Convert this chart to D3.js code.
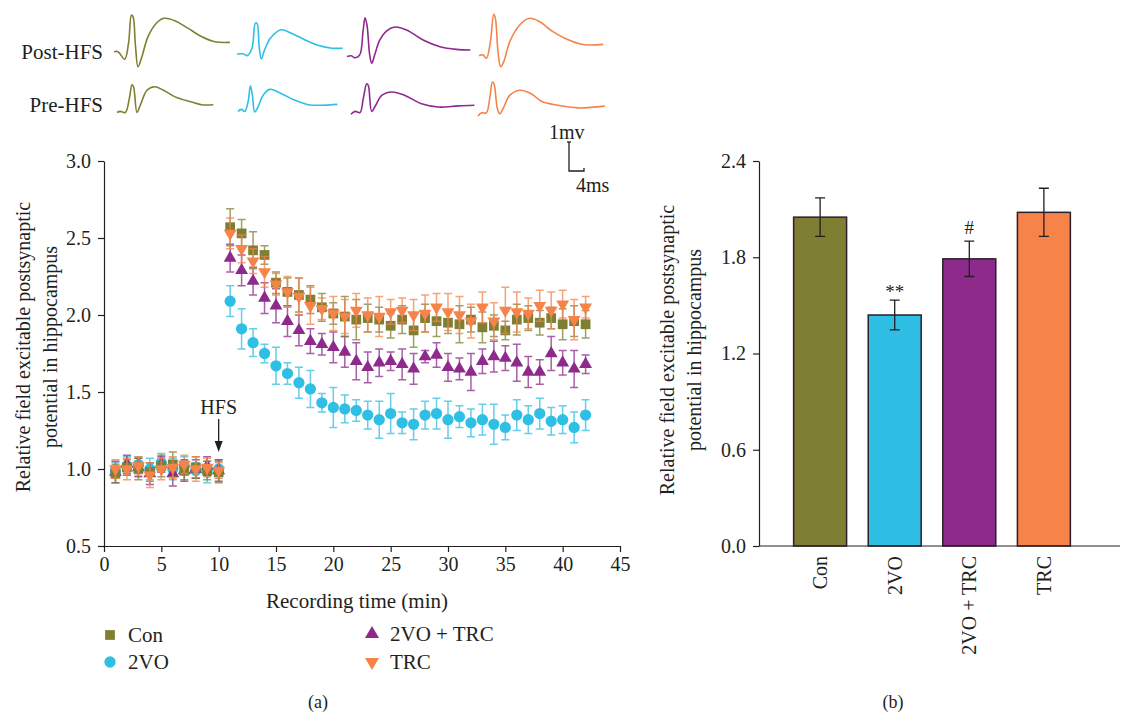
<!DOCTYPE html>
<html>
<head>
<meta charset="utf-8">
<script src="https://cdn.jsdelivr.net/npm/d3@7"></script>
<style>
  body { margin: 0; background: #fff; }
  svg text { font-family: "Liberation Serif", "DejaVu Serif", serif; fill: #231f20; }
</style>
</head>
<body>
<div id="chart"></div>
<script>
// ---- data ----
const groups = ["Con", "2VO", "2VO + TRC", "TRC"];
const colors = ["#7f7f33", "#2fbfe4", "#8e2a8c", "#f5834a"];

const minutes = [1,2,3,4,5,6,7,8,9,10,11,12,13,14,15,16,17,18,19,20,21,
                 22,23,24,25,26,27,28,29,30,31,32,33,34,35,36,37,38,39,40,41,42];

const conMean = [0.97,1.01,1.00,0.98,1.02,1.03,0.99,1.01,0.99,0.98,
  2.57,2.53,2.42,2.39,2.21,2.15,2.13,2.10,2.05,2.01,1.99,1.97,
  1.98,1.97,1.93,1.97,1.90,1.98,1.96,1.95,1.94,1.97,1.92,1.93,1.90,1.97,1.98,1.95,1.98,1.94,1.96,1.94];
const conSe = [0.06,0.05,0.07,0.06,0.07,0.08,0.06,0.07,0.06,0.07,
  0.12,0.09,0.12,0.06,0.07,0.09,0.11,0.09,0.09,0.07,0.13,0.13,
  0.09,0.08,0.08,0.09,0.11,0.09,0.10,0.07,0.12,0.08,0.10,0.07,0.06,0.10,0.08,0.08,0.07,0.10,0.10,0.09];

const vo2Mean = [0.99,1.02,1.03,1.00,1.04,1.00,1.02,0.99,0.98,1.00,
  2.09,1.91,1.82,1.75,1.67,1.62,1.56,1.52,1.43,1.40,1.39,1.38,
  1.35,1.32,1.36,1.30,1.29,1.35,1.36,1.32,1.34,1.30,1.32,1.29,1.27,1.35,1.32,1.36,1.31,1.32,1.27,1.35];
const vo2Se = [0.05,0.06,0.05,0.07,0.06,0.07,0.06,0.05,0.07,0.06,
  0.10,0.13,0.09,0.06,0.12,0.07,0.10,0.12,0.06,0.13,0.09,0.07,
  0.09,0.12,0.13,0.07,0.10,0.09,0.10,0.12,0.07,0.09,0.10,0.13,0.08,0.10,0.09,0.10,0.09,0.09,0.10,0.10];

const vo2TrcMean = [0.98,1.03,1.01,0.97,1.03,0.97,0.99,1.00,1.02,0.99,
  2.37,2.29,2.22,2.11,2.06,1.96,1.90,1.83,1.81,1.79,1.76,1.70,
  1.66,1.69,1.70,1.68,1.65,1.73,1.74,1.66,1.65,1.63,1.70,1.73,1.72,1.69,1.63,1.63,1.75,1.69,1.65,1.68];
const vo2TrcSe = [0.07,0.06,0.06,0.07,0.05,0.08,0.07,0.06,0.06,0.07,
  0.09,0.10,0.09,0.10,0.11,0.10,0.10,0.08,0.07,0.10,0.10,0.12,
  0.10,0.09,0.06,0.10,0.10,0.04,0.08,0.09,0.07,0.12,0.08,0.10,0.08,0.12,0.10,0.08,0.11,0.08,0.12,0.06];

const trcMean = [1.00,1.00,1.02,0.96,1.00,1.01,1.03,1.00,1.01,0.99,
  2.53,2.43,2.35,2.28,2.20,2.15,2.12,2.06,2.04,2.01,1.99,2.03,
  2.00,1.99,2.02,2.03,2.00,2.01,2.05,2.02,2.00,1.96,2.05,1.96,2.03,2.02,2.01,2.06,2.03,2.07,1.97,2.05];
const trcSe = [0.06,0.07,0.06,0.08,0.07,0.07,0.06,0.08,0.06,0.05,
  0.10,0.09,0.08,0.10,0.07,0.10,0.12,0.12,0.07,0.11,0.11,0.11,
  0.11,0.13,0.08,0.08,0.10,0.12,0.09,0.12,0.12,0.11,0.10,0.12,0.15,0.13,0.10,0.10,0.12,0.09,0.13,0.07];

const xTicks = [0,5,10,15,20,25,30,35,40,45];
const yTicksA = [0.5,1.0,1.5,2.0,2.5,3.0];

// panel b
const barMean = [2.05, 1.44, 1.79, 2.08];
const barSe = [0.12, 0.093, 0.11, 0.15];
const barMarks = ["", "**", "#", ""];
const yTicksB = [0.0, 0.6, 1.2, 1.8, 2.4];

// sample traces: [ms, mV]
const conPost = [[0,-0.23],[1.07,-0.23],[2.85,-0.49],[3.92,0.11],[4.64,1.03],[5.07,0.98],[5.71,0],[6.4,-0.75],[7.31,-0.46],[9.07,0.29],[11.3,0.75],[13.3,0.92],[16.2,0.84],[19.7,0.58],[23.3,0.29],[26.9,0.11],[30.9,0.09]];
const vo2Post = [[0,-0.31],[1.76,-0.31],[2.67,-0.37],[4.0,-0.11],[4.88,0.75],[5.33,0.75],[5.95,-0.11],[6.48,-0.48],[7.36,-0.17],[8.88,0.23],[11.55,0.52],[14.67,0.40],[18.2,0.17],[21.8,-0.02],[25.3,-0.11],[28.2,-0.11]];
const vo2TrcPost = [[0,-0.4],[1.17,-0.37],[2.05,-0.44],[3.39,-0.34],[4.27,0.46],[4.8,0.94],[5.33,0.69],[6.05,-0.34],[6.59,-0.63],[7.39,-0.34],[8.72,0.17],[10.5,0.48],[12.7,0.62],[15.9,0.52],[20.3,0.17],[24.8,-0.06],[29.2,-0.15],[32.9,-0.17]];
const trcPost = [[0,-0.37],[1.07,-0.34],[1.97,-0.46],[3.04,0.11],[3.92,1.06],[4.37,0.92],[5.07,-0.23],[5.79,-0.75],[6.59,-0.58],[8.19,0.11],[10.85,0.69],[13.5,0.92],[16.2,0.80],[19.7,0.46],[23.3,0.21],[27.7,0.02],[33.1,0.02]];
const conPre = [[0,-0.26],[0.88,-0.22],[2.21,-0.26],[3.28,0.22],[4.0,0.70],[4.43,0.62],[5.33,-0.26],[6.21,-0.01],[8.0,0.51],[10.0,0.63],[12.4,0.51],[15.5,0.28],[20.0,0.10],[22.6,0.01],[25.7,0.01]];
const vo2Pre = [[0,-0.22],[0.91,-0.15],[1.79,-0.22],[2.67,0.10],[3.31,0.66],[3.84,0.33],[4.45,-0.24],[5.33,-0.07],[6.67,0.33],[8.45,0.54],[11.6,0.39],[15.2,0.16],[18.7,0.01],[22.3,-0.01],[26.5,0.02]];
const vo2TrcPre = [[0,-0.32],[1.07,-0.22],[2.4,-0.26],[3.28,0.22],[4.19,0.73],[4.61,0.68],[5.52,-0.22],[6.59,-0.01],[8.19,0.33],[10.85,0.45],[14.4,0.33],[18.8,0.04],[23.3,-0.07],[28.6,-0.03],[32.9,-0.01]];
const trcPre = [[0,-0.38],[0.91,-0.27],[2.24,-0.27],[3.12,0.22],[3.84,0.79],[4.27,0.73],[5.17,-0.13],[5.79,-0.30],[6.67,-0.13],[8.45,0.33],[11.1,0.51],[14.2,0.39],[16.9,0.13],[21.3,-0.01],[26.7,-0.10],[33.8,-0.04]];

// ---- svg ----
const W = 1126, H = 713;
const svg = d3.select("#chart").append("svg")
    .attr("width", W).attr("height", H);

const tickFont = 20;

// ---- traces ----
const ms = d3.scaleLinear().domain([0, 4]).range([0, 15]);
const mv = d3.scaleLinear().domain([0, 1]).range([0, -29]);
const traceLine = d3.line().x(d => ms(d[0])).y(d => mv(d[1])).curve(d3.curveCatmullRom);

const postTraces = [conPost, vo2Post, vo2TrcPost, trcPost];
const preTraces = [conPre, vo2Pre, vo2TrcPre, trcPre];
const postX = [114, 237, 347, 479];
const preX = [117, 238, 351, 478];

postTraces.forEach((tr, i) => {
  svg.append("path").attr("transform", `translate(${postX[i]},45)`)
    .attr("d", traceLine(tr)).attr("fill", "none")
    .attr("stroke", colors[i]).attr("stroke-width", 1.6);
});
preTraces.forEach((tr, i) => {
  svg.append("path").attr("transform", `translate(${preX[i]},105)`)
    .attr("d", traceLine(tr)).attr("fill", "none")
    .attr("stroke", colors[i]).attr("stroke-width", 1.6);
});

svg.append("text").attr("x", 103).attr("y", 59).attr("text-anchor", "end")
  .attr("font-size", 21).text("Post-HFS");
svg.append("text").attr("x", 103).attr("y", 112).attr("text-anchor", "end")
  .attr("font-size", 21).text("Pre-HFS");

// scale bar
const sb = svg.append("g").attr("transform", "translate(569,171)")
  .attr("stroke", "#231f20").attr("stroke-width", 1.3).attr("fill", "none");
sb.append("path").attr("d", `M0,${mv(1)}V0H${ms(4)}V-3`);
sb.append("path").attr("d", `M-2,${mv(1)}H2`);
svg.append("text").attr("x", 549).attr("y", 139).attr("font-size", 20).text("1mv");
svg.append("text").attr("x", 576).attr("y", 192).attr("font-size", 20).text("4ms");

// ---- panel a ----
const x = d3.scaleLinear().domain([0, 45]).range([104, 620]);
const y = d3.scaleLinear().domain([0.5, 3.0]).range([546, 161]);

svg.append("g").attr("transform", "translate(0,546)")
  .call(d3.axisBottom(x).tickValues(xTicks).tickSize(6).tickSizeOuter(0).tickPadding(5))
  .call(g => g.selectAll("text").attr("font-size", tickFont).style("font-family", "Liberation Serif"))
  .call(g => g.selectAll("line,path").attr("stroke", "#231f20").attr("stroke-width", 1.2));
svg.append("g").attr("transform", "translate(104,0)")
  .call(d3.axisLeft(y).tickValues(yTicksA).tickFormat(d3.format(".1f")).tickSize(6).tickSizeOuter(0).tickPadding(7))
  .call(g => g.selectAll("text").attr("font-size", tickFont).style("font-family", "Liberation Serif"))
  .call(g => g.selectAll("line,path").attr("stroke", "#231f20").attr("stroke-width", 1.2));

svg.append("text").attr("x", 357).attr("y", 608).attr("text-anchor", "middle")
  .attr("font-size", 21).text("Recording time (min)");
const yTitleA = svg.append("text").attr("transform", "translate(30,347) rotate(-90)")
  .attr("text-anchor", "middle").attr("font-size", 20);
yTitleA.append("tspan").attr("x", 0).attr("dy", 0).text("Relative field excitable postsynaptic");
yTitleA.append("tspan").attr("x", 0).attr("dy", 27).text("potential in hippocampus");

// HFS marker
svg.append("text").attr("x", x(10)).attr("y", 414).attr("text-anchor", "middle")
  .attr("font-size", 20).text("HFS");
svg.append("line").attr("x1", x(10)).attr("x2", x(10)).attr("y1", 419).attr("y2", 444)
  .attr("stroke", "#231f20").attr("stroke-width", 1.3);
svg.append("path").attr("d", `M${x(10)-4},441L${x(10)+4},441L${x(10)},452Z`).attr("fill", "#231f20");

const series = [
  {name: "2VO", mean: vo2Mean, se: vo2Se, color: colors[1], sym: d3.symbolCircle, size: 100, rot: 0},
  {name: "2VO + TRC", mean: vo2TrcMean, se: vo2TrcSe, color: colors[2], sym: d3.symbolTriangle, size: 72, rot: 0},
  {name: "Con", mean: conMean, se: conSe, color: colors[0], sym: d3.symbolSquare, size: 95, rot: 0},
  {name: "TRC", mean: trcMean, se: trcSe, color: colors[3], sym: d3.symbolTriangle, size: 72, rot: 180}
];

series.forEach(s => {
  const g = svg.append("g");
  const pts = minutes.map((m, i) => ({m: m, v: s.mean[i], e: s.se[i]}));
  const eb = g.append("g").attr("stroke", s.color).attr("stroke-width", 1.5).attr("opacity", 0.75);
  eb.selectAll("path").data(pts).join("path")
    .attr("fill", "none")
    .attr("d", d => {
      const cx = x(d.m), t = y(d.v + d.e), b = y(d.v - d.e);
      return `M${cx-4},${t}H${cx+4}M${cx},${t}V${b}M${cx-4},${b}H${cx+4}`;
    });
  g.selectAll(".pt").data(pts).join("path").attr("class", "pt")
    .attr("transform", d => `translate(${x(d.m)},${y(d.v)}) rotate(${s.rot})`)
    .attr("d", d3.symbol().type(s.sym).size(s.size))
    .attr("fill", s.color);
});

// legend
const legendItems = [
  {name: "Con", sym: d3.symbolSquare, size: 95, rot: 0, color: colors[0], lx: 110, ly: 635},
  {name: "2VO", sym: d3.symbolCircle, size: 100, rot: 0, color: colors[1], lx: 110, ly: 662},
  {name: "2VO + TRC", sym: d3.symbolTriangle, size: 85, rot: 0, color: colors[2], lx: 372, ly: 634},
  {name: "TRC", sym: d3.symbolTriangle, size: 85, rot: 180, color: colors[3], lx: 372, ly: 662}
];
legendItems.forEach(l => {
  svg.append("path").attr("transform", `translate(${l.lx},${l.ly}) rotate(${l.rot})`)
    .attr("d", d3.symbol().type(l.sym).size(l.size)).attr("fill", l.color);
  svg.append("text").attr("x", l.lx + 18).attr("y", l.ly + 7).attr("font-size", 21).text(l.name);
});

svg.append("text").attr("x", 318).attr("y", 708).attr("text-anchor", "middle")
  .attr("font-size", 18).text("(a)");

// ---- panel b ----
const xb = d3.scaleBand().domain(groups).range([772, 1092]).padding(0.29);
const yb = d3.scaleLinear().domain([0, 2.4]).range([546, 161]);

svg.append("g").selectAll("rect").data(groups).join("rect")
  .attr("x", d => xb(d)).attr("width", xb.bandwidth())
  .attr("y", (d, i) => yb(barMean[i])).attr("height", (d, i) => yb(0) - yb(barMean[i]))
  .attr("fill", (d, i) => colors[i]).attr("stroke", "#2b1f2b").attr("stroke-width", 1.5);

svg.append("g").attr("stroke", "#231f20").attr("stroke-width", 1.3).attr("fill", "none")
  .selectAll("path").data(groups).join("path")
  .attr("d", (d, i) => {
    const cx = xb(d) + xb.bandwidth() / 2, t = yb(barMean[i] + barSe[i]), b = yb(barMean[i] - barSe[i]);
    return `M${cx-5},${t}H${cx+5}M${cx},${t}V${b}M${cx-5},${b}H${cx+5}`;
  });

svg.append("g").selectAll("text").data(groups).join("text")
  .attr("x", d => xb(d) + xb.bandwidth() / 2)
  .attr("y", (d, i) => yb(barMean[i] + barSe[i]) - (barMarks[i] === "#" ? 7 : 2))
  .attr("text-anchor", "middle").attr("font-size", 19)
  .text((d, i) => barMarks[i]);

svg.append("g").attr("transform", "translate(759,0)")
  .call(d3.axisLeft(yb).tickValues(yTicksB).tickFormat(d3.format(".1f")).tickSize(6).tickSizeOuter(0).tickPadding(7))
  .call(g => g.selectAll("text").attr("font-size", tickFont).style("font-family", "Liberation Serif"))
  .call(g => g.selectAll("line,path").attr("stroke", "#231f20").attr("stroke-width", 1.2));

svg.append("g").attr("transform", "translate(0,546)")
  .call(d3.axisBottom(xb).tickSize(0).tickPadding(0))
  .call(g => g.select(".domain").attr("d", "M759,0H1120").attr("stroke", "#231f20").attr("stroke-width", 1.2))
  .call(g => g.selectAll("text")
      .attr("font-size", tickFont).style("font-family", "Liberation Serif")
      .attr("transform", "rotate(-90)").attr("text-anchor", "end")
      .attr("x", -10).attr("y", 0).attr("dy", "0.35em"));

const yTitleB = svg.append("text").attr("transform", "translate(674,350) rotate(-90)")
  .attr("text-anchor", "middle").attr("font-size", 20);
yTitleB.append("tspan").attr("x", 0).attr("dy", 0).text("Relative field excitable postsynaptic");
yTitleB.append("tspan").attr("x", 0).attr("dy", 27).text("potential in hippocampus");

svg.append("text").attr("x", 893).attr("y", 708).attr("text-anchor", "middle")
  .attr("font-size", 18).text("(b)");
</script>
</body>
</html>
